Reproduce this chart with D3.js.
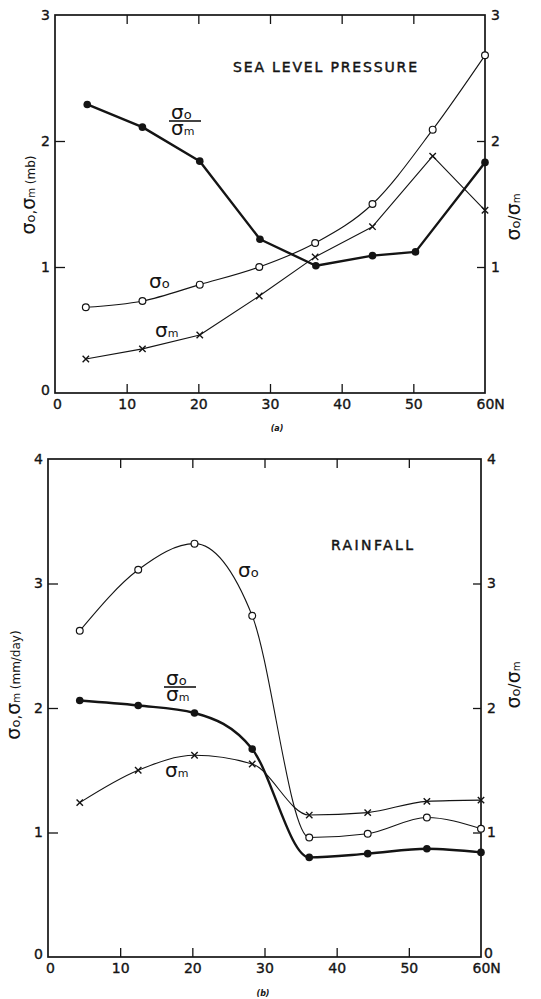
<!DOCTYPE html>
<html><head><meta charset="utf-8">
<script src="https://cdn.jsdelivr.net/npm/d3@7"></script>
<style>
body{margin:0;background:#fff}
svg{display:block}
text{font-family:"DejaVu Sans",sans-serif;fill:#141414}
</style>
</head><body>
<svg id="c" width="541" height="999"></svg>
<script>
// ---------- DATA ----------
const xTicks = [0, 10, 20, 30, 40, 50, 60];
// (a) Sea level pressure
const slpLat      = [4.3, 12.2, 20.2, 28.5, 36.3, 44.3, 52.7, 60];
const slpRatioLat = [4.5, 12.2, 20.2, 28.6, 36.4, 44.3, 50.3, 60];
const slpSigmaO   = [0.68, 0.73, 0.86, 1.00, 1.19, 1.50, 2.09, 2.68];
const slpSigmaM   = [0.27, 0.35, 0.46, 0.77, 1.08, 1.32, 1.88, 1.45];
const slpRatio    = [2.29, 2.11, 1.84, 1.22, 1.01, 1.09, 1.12, 1.83];
const slpYTicks   = [0, 1, 2, 3];
// (b) Rainfall
const rainLat     = [4.4, 12.5, 20.3, 28.3, 36.2, 44.3, 52.5, 60];
const rainSigmaO  = [2.62, 3.11, 3.32, 2.74, 0.96, 0.99, 1.12, 1.03];
const rainSigmaM  = [1.24, 1.50, 1.62, 1.55, 1.14, 1.16, 1.25, 1.26];
const rainRatio   = [2.06, 2.02, 1.96, 1.67, 0.80, 0.83, 0.87, 0.84];
const rainYTicks  = [0, 1, 2, 3, 4];

const svg = d3.select("#c");
const INK = "#141414";

function sigmaText(g, x, y, parts, opts) {
  const t = g.append("text").attr("x", x).attr("y", y)
    .attr("text-anchor", opts.anchor || "start");
  if (opts.rotate) t.attr("transform", `rotate(-90,${x},${y})`);
  parts.forEach(p => {
    const ts = t.append("tspan").text(p[0]).style("font-size", p[1] + "px");
    if (p[2]) ts.attr("dy", p[2]);
    if (p[3] !== undefined) ts.attr("x", p[3]);
  });
  return t;
}

function panel(cfg) {
  const g = svg.append("g");
  const x = d3.scaleLinear().domain([0, 60]).range([cfg.x0, cfg.x1]);
  const y = d3.scaleLinear().domain([0, cfg.ymax]).range([cfg.yb, cfg.yt]);

  g.append("rect").attr("x", cfg.x0).attr("y", cfg.yt)
    .attr("width", cfg.x1 - cfg.x0).attr("height", cfg.yb - cfg.yt)
    .attr("fill", "none").attr("stroke", INK).attr("stroke-width", 1.7);

  const styleAxis = sel => {
    sel.select(".domain").remove();
    sel.selectAll(".tick line").attr("stroke", INK).attr("stroke-width", 1.3);
    sel.selectAll("text").style("font-size", "14px").attr("fill", INK)
      .attr("stroke", INK).attr("stroke-width", 0.35)
      .style("font-family", '"DejaVu Sans",sans-serif');
  };
  const fmt = d3.format("d");

  // bottom axis
  const bx = g.append("g").attr("transform", `translate(0,${cfg.yb})`)
    .call(d3.axisBottom(x).tickValues(xTicks).tickSize(-9).tickPadding(6)
      .tickFormat(d => d === 60 ? "60N" : fmt(d)));
  styleAxis(bx);
  bx.selectAll(".tick").filter(d => d === 0 || d === 60).select("line").remove();
  bx.selectAll(".tick").filter(d => d === 60).select("text")
    .attr("text-anchor", "start").attr("dx", -9);
  bx.selectAll(".tick").filter(d => d === 0).select("text").attr("dx", 2);

  // top axis (ticks only)
  const tx = g.append("g").attr("transform", `translate(0,${cfg.yt})`)
    .call(d3.axisTop(x).tickValues(xTicks.slice(1, -1)).tickSize(-9).tickFormat(""));
  styleAxis(tx);

  // left axis
  const ly = g.append("g").attr("transform", `translate(${cfg.x0},0)`)
    .call(d3.axisLeft(y).tickValues(cfg.yTicks).tickSize(-10).tickPadding(5).tickFormat(fmt));
  styleAxis(ly);
  ly.selectAll(".tick").filter(d => d === 0 || d === cfg.ymax).select("line").remove();
  ly.selectAll(".tick").filter(d => d === 0).select("text").attr("dy", "0.1em");

  // right axis
  const ry = g.append("g").attr("transform", `translate(${cfg.x1},0)`)
    .call(d3.axisRight(y).tickValues(cfg.yTicks.filter(d => cfg.rightZero || d > 0))
      .tickSize(-8).tickPadding(6).tickFormat(fmt));
  styleAxis(ry);
  ry.selectAll(".tick").filter(d => d === 0 || d === cfg.ymax).select("line").remove();
  ry.selectAll(".tick").filter(d => d === 0).select("text").attr("dy", "0.05em").attr("dx", -3);

  // series
  const series = [
    {lat: cfg.lat, v: cfg.sigmaO, w: 1.1, mark: "open", curve: cfg.curveO},
    {lat: cfg.lat, v: cfg.sigmaM, w: 1.1, mark: "x", curve: cfg.curveM},
    {lat: cfg.ratioLat, v: cfg.ratio, w: 2.4, mark: "dot", curve: cfg.curveR}
  ];
  series.forEach(s => {
    const pts = s.lat.map((l, i) => [l, s.v[i]]);
    g.append("path").datum(pts)
      .attr("d", d3.line().x(d => x(d[0])).y(d => y(d[1])).curve(s.curve))
      .attr("fill", "none").attr("stroke", INK).attr("stroke-width", s.w)
      .attr("stroke-linejoin", "round");
    if (s.mark === "open") {
      g.selectAll(null).data(pts).join("circle")
        .attr("cx", d => x(d[0])).attr("cy", d => y(d[1])).attr("r", 3.4)
        .attr("fill", "#fff").attr("stroke", INK).attr("stroke-width", 1.2);
    } else if (s.mark === "dot") {
      g.selectAll(null).data(pts).join("circle")
        .attr("cx", d => x(d[0])).attr("cy", d => y(d[1])).attr("r", 3.8)
        .attr("fill", INK);
    } else {
      const m = 3.2;
      g.selectAll(null).data(pts).join("path")
        .attr("d", d => {
          const cx = x(d[0]), cy = y(d[1]);
          return `M${cx - m},${cy - m}L${cx + m},${cy + m}M${cx - m},${cy + m}L${cx + m},${cy - m}`;
        })
        .attr("stroke", INK).attr("stroke-width", 1.4);
    }
  });

  // title
  g.append("text").attr("x", cfg.title[1]).attr("y", cfg.title[2])
    .attr("textLength", cfg.title[3]).attr("lengthAdjust", "spacing")
    .attr("stroke", INK).attr("stroke-width", 0.45)
    .style("font-size", "14px").text(cfg.title[0]);

  sigmaText(g, cfg.oLab[0], cfg.oLab[1], [["σ", 20], ["o", 13]], {});
  sigmaText(g, cfg.mLab[0], cfg.mLab[1], [["σ", 20], ["m", 11]], {});

  // fraction as one text element
  const fx = cfg.frac[0], fy = cfg.frac[1];
  sigmaText(g, fx - 14, fy - 2,
    [["σ", 20], ["o", 13], ["σ", 20, 16, fx - 14], ["m", 11]], {});
  g.append("line").attr("x1", fx - 16).attr("x2", fx + 16).attr("y1", fy).attr("y2", fy)
    .attr("stroke", INK).attr("stroke-width", 1.6);

  // axis titles
  sigmaText(g, cfg.leftLab[0], cfg.leftLab[1],
    [["σ", 19], ["o", 13], [",", 15], ["σ", 19], ["m", 10], [" " + cfg.unit, 12]],
    {rotate: true, anchor: "middle"});
  sigmaText(g, cfg.rightLab[0], cfg.rightLab[1],
    [["σ", 19], ["o", 13], ["/", 15], ["σ", 19], ["m", 10]],
    {rotate: true, anchor: "middle"});

  g.append("text").attr("x", cfg.letter[1]).attr("y", cfg.letter[2])
    .attr("text-anchor", "middle").style("font-size", "8px").style("font-style", "italic")
    .style("font-weight", "bold").text(cfg.letter[0]);
}

panel({
  x0: 55, x1: 485, yb: 393, yt: 15, ymax: 3, yTicks: slpYTicks,
  lat: slpLat, ratioLat: slpRatioLat,
  sigmaO: slpSigmaO, sigmaM: slpSigmaM, ratio: slpRatio,
  curveO: d3.curveMonotoneX, curveM: d3.curveLinear, curveR: d3.curveLinear,
  title: ["SEA LEVEL PRESSURE", 233, 72, 184],
  oLab: [149, 288], mLab: [155, 337], frac: [185, 121],
  leftLab: [35, 195], rightLab: [520, 217], unit: "(mb)",
  letter: ["(a)", 277, 431], rightZero: false
});

panel({
  x0: 48, x1: 481, yb: 957, yt: 459, ymax: 4, yTicks: rainYTicks,
  lat: rainLat, ratioLat: rainLat,
  sigmaO: rainSigmaO, sigmaM: rainSigmaM, ratio: rainRatio,
  curveO: d3.curveMonotoneX, curveM: d3.curveMonotoneX, curveR: d3.curveMonotoneX,
  title: ["RAINFALL", 331, 550, 82],
  oLab: [238, 577], mLab: [165, 777], frac: [180, 687],
  leftLab: [20, 685], rightLab: [520, 685], unit: "(mm/day)",
  letter: ["(b)", 263, 996], rightZero: true
});
</script>
</body></html>
